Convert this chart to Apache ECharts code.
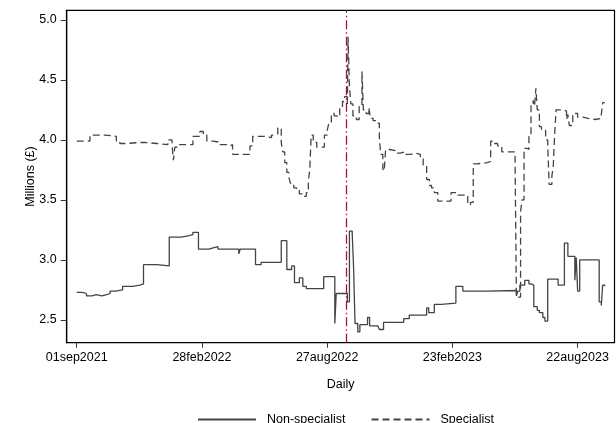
<!DOCTYPE html>
<html><head><meta charset="utf-8">
<script src="https://cdn.jsdelivr.net/npm/echarts@6/dist/echarts.min.js"></script>
<style>html,body{margin:0;padding:0;background:#fff}#c{width:616px;height:423px}</style>
</head><body><div id="c"></div>
<script>
// Day offsets are counted from 01sep2021
const tickDays = [0, 180, 360, 540, 720];
const tickLabels = ['01sep2021', '28feb2022', '27aug2022', '23feb2023', '22aug2023'];
const yTicks = [2.5, 3.0, 3.5, 4.0, 4.5, 5.0];
const eventDay = 387; // 23sep2022

const nonSpecDays = [0,8,14,22,28,36,43,48,56,66,80,91,96,115,133,150,160,167,175,190,196,203,233,235,257,265,294,302,309,313,320,325,330,355,371,373,389,392,396,398,400,404,407,418,421,433,435,441,470,478,503,506,514,524,545,555,590,632,634,637,644,650,653,657,662,665,670,673,677,692,701,706,716,718,720,723,751,754,756,759];
const nonSpecVals = [2.73,2.72,2.70,2.71,2.70,2.71,2.72,2.74,2.75,2.78,2.79,2.80,2.96,2.95,3.19,3.20,3.21,3.23,3.09,3.10,3.11,3.09,3.05,3.09,2.96,2.98,3.16,2.92,2.95,2.81,2.85,2.78,2.76,2.86,2.47,2.72,2.65,3.24,3.22,2.93,2.47,2.40,2.46,2.52,2.45,2.44,2.42,2.48,2.51,2.54,2.60,2.56,2.63,2.64,2.78,2.74,2.745,2.70,2.74,2.79,2.83,2.80,2.79,2.61,2.58,2.56,2.52,2.49,2.84,2.79,3.14,3.03,2.83,3.02,2.74,3.00,2.65,2.62,2.79,2.78];

const specDays = [0,19,40,57,62,70,96,115,131,137,139,141,145,167,177,182,187,196,206,215,220,224,249,253,270,280,285,289,294,296,299,302,305,307,312,316,320,324,330,333,335,337,340,345,350,356,360,362,366,370,373,378,382,385,389,390,392,394,397,402,406,410,412,416,420,422,426,431,435,437,440,442,444,450,458,465,472,480,487,494,498,503,507,510,514,519,538,548,562,566,570,575,590,595,600,605,611,630,632,638,640,643,647,650,653,656,658,660,662,665,668,674,677,679,683,685,687,689,700,704,706,708,713,720,728,735,745,754,756,759];
const specVals = [3.99,4.04,4.03,3.99,3.97,3.98,3.97,3.96,4.00,3.96,3.83,3.94,3.96,4.03,4.07,4.04,3.99,3.98,3.96,3.95,3.96,3.88,3.95,4.03,4.02,4.04,4.05,4.10,3.98,3.90,3.81,3.73,3.69,3.64,3.60,3.58,3.55,3.53,3.56,3.66,3.75,4.04,3.98,3.94,3.94,4.04,4.08,4.13,4.22,4.20,4.19,4.26,4.32,4.36,4.30,4.86,4.45,4.30,4.20,4.17,4.28,4.57,4.25,4.22,4.27,4.18,4.16,4.14,4.02,3.88,3.76,3.74,3.92,3.91,3.89,3.90,3.88,3.89,3.88,3.85,3.79,3.67,3.62,3.60,3.56,3.49,3.56,3.54,3.46,3.48,3.80,3.81,3.82,3.99,3.97,3.95,3.90,3.88,2.69,3.40,3.50,3.93,3.92,4.03,4.30,4.33,4.28,4.43,4.25,4.11,4.08,4.00,3.97,3.63,3.70,3.78,4.05,4.25,4.24,4.17,4.21,4.12,4.22,4.19,4.18,4.17,4.18,4.21,4.31,4.31];

const zip = (a, b) => a.map((d, i) => [d, b[i]]);
const FONT = 'Liberation Sans, Arial, sans-serif';

const chart = echarts.init(document.getElementById('c'), null, {renderer: 'canvas'});
chart.setOption({
  animation: false,
  backgroundColor: '#fff',
  grid: {left: 66.7, top: 10.3, right: 1.5, bottom: 80.3, show: true, borderColor: '#000', borderWidth: 1.2},
  xAxis: {
    type: 'value', min: -14.4, max: 773,
    name: 'Daily', nameLocation: 'middle', nameGap: 35,
    nameTextStyle: {fontFamily: FONT, fontSize: 12.5, color: '#000'},
    axisLine: {show: true, onZero: false, lineStyle: {color: '#000', width: 1.2}},
    axisTick: {show: true, length: 5, customValues: tickDays, lineStyle: {color: '#333'}},
    axisLabel: {customValues: tickDays, margin: 8, fontFamily: FONT, fontSize: 12.5, color: '#000',
      formatter: v => tickLabels[tickDays.indexOf(v)] || ''},
    splitLine: {show: false}
  },
  yAxis: {
    type: 'value', min: 2.31, max: 5.08,
    name: 'Millions (£)', nameLocation: 'middle', nameGap: 30, nameRotate: 90,
    nameMoveOverlap: false,
    nameTextStyle: {fontFamily: FONT, fontSize: 12.5, color: '#000'},
    axisLine: {show: true, onZero: false, lineStyle: {color: '#000', width: 1.2}},
    axisTick: {show: true, length: 6, customValues: yTicks, lineStyle: {color: '#333'}},
    axisLabel: {customValues: yTicks, margin: 10, fontFamily: FONT, fontSize: 12.5, color: '#000',
      formatter: v => v.toFixed(1)},
    splitLine: {show: false}
  },
  legend: {
    left: 192, top: 408, itemWidth: 58, itemHeight: 12, itemGap: 25,
    itemStyle: {opacity: 0},
    textStyle: {fontFamily: FONT, fontSize: 12.5, color: '#000', padding: [0, 0, 0, 6]},
    data: ['Non-specialist', 'Specialist']
  },
  series: [
    {
      name: 'Non-specialist', type: 'line', step: 'end', symbol: 'none',
      lineStyle: {color: '#444', width: 1.3},
      itemStyle: {color: '#444'},
      data: zip(nonSpecDays, nonSpecVals)
    },
    {
      name: 'Specialist', type: 'line', step: 'end', symbol: 'none',
      lineStyle: {color: '#444', width: 1.3, type: [7, 4]},
      itemStyle: {color: '#444'},
      data: zip(specDays, specVals),
      markLine: {
        silent: true, symbol: 'none', label: {show: false},
        lineStyle: {color: '#a0182e', width: 1.3, type: [9, 3, 1.5, 3]},
        data: [{xAxis: eventDay}]
      }
    }
  ]
});
</script>
</body></html>
